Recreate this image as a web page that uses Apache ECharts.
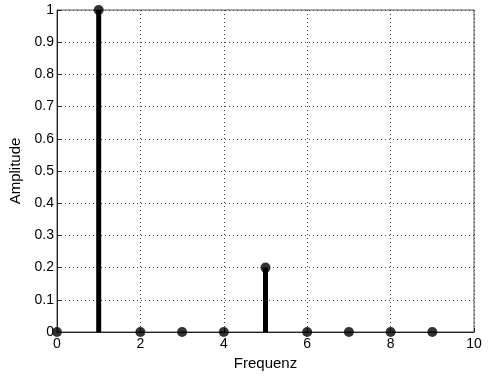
<!DOCTYPE html>
<html><head><meta charset="utf-8">
<script src="https://cdn.jsdelivr.net/npm/echarts@6/dist/echarts.min.js"></script>
<style>html,body{margin:0;padding:0;background:#fff}#c{width:493px;height:376px}</style>
</head><body><div id="c"></div>
<script>
const freqs = [0,1,2,3,4,5,6,7,8,9];
const amps  = [0,1,0,0,0,0.2,0,0,0,0];
const xTicks = [0,2,4,6,8,10];
const yTicks = [0,0.1,0.2,0.3,0.4,0.5,0.6,0.7,0.8,0.9,1];

const pts = freqs.map((f,i)=>[f,amps[i]]);
const chart = echarts.init(document.getElementById('c'));
const font = 'Liberation Sans, Arial, sans-serif';
chart.setOption({
  animation:false,
  grid:{left:57,right:19,top:10,bottom:37,show:true,borderColor:'#555',borderWidth:1,backgroundColor:'#fff'},
  xAxis:{type:'value',min:0,max:10,interval:2,
    name:'Frequenz',nameLocation:'middle',nameGap:24,
    nameTextStyle:{color:'#000',fontSize:15,fontFamily:font},
    axisLine:{show:true,onZero:false,lineStyle:{color:'#222',width:1}},
    axisTick:{show:true,inside:true,length:4,lineStyle:{color:'#222'}},
    axisLabel:{color:'#000',fontSize:14,fontFamily:font,margin:5,
      formatter:v=>xTicks.includes(v)?String(v):''},
    splitLine:{show:true,lineStyle:{color:'#444',type:[1,3],width:1}}
  },
  yAxis:{type:'value',min:0,max:1,interval:0.1,
    name:'Amplitude',nameLocation:'middle',nameGap:28,
    nameTextStyle:{color:'#000',fontSize:15,fontFamily:font},
    axisLine:{show:true,onZero:false,lineStyle:{color:'#222',width:1}},
    axisTick:{show:true,inside:true,length:4,lineStyle:{color:'#222'}},
    axisLabel:{color:'#000',fontSize:14,fontFamily:font,margin:3,
      formatter:v=>{const r=Math.round(v*10)/10;return yTicks.includes(r)?String(r):'';}},
    splitLine:{show:true,lineStyle:{color:'#444',type:[1,3],width:1}}
  },
  series:[
    {type:'bar',data:pts,barWidth:5,itemStyle:{color:'#000'},silent:true,z:3},
    {type:'scatter',data:pts,symbol:'circle',symbolSize:10,itemStyle:{color:'#000'},z:4}
  ]
});
</script></body></html>
